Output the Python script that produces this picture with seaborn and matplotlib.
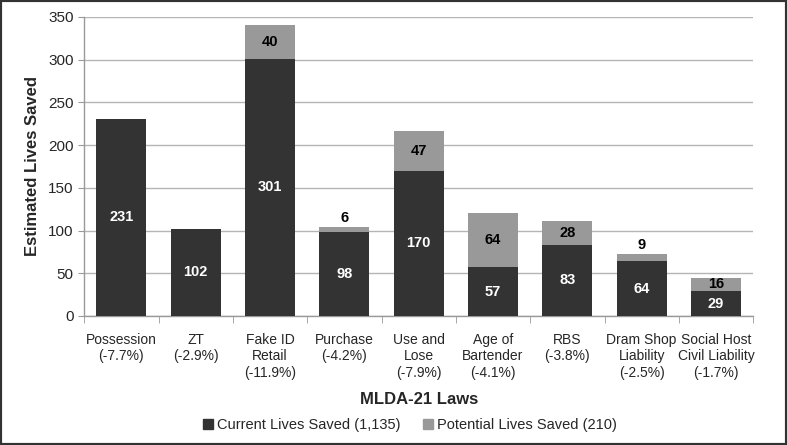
import matplotlib
matplotlib.use('Agg')
import matplotlib.pyplot as plt
import seaborn as sns
import pandas as pd
from matplotlib.patches import Rectangle, Patch

# Datos del grafico
laws = ['Possession\n(-7.7%)', 'ZT\n(-2.9%)', 'Fake ID\nRetail\n(-11.9%)', 'Purchase\n(-4.2%)',
        'Use and\nLose\n(-7.9%)', 'Age of\nBartender\n(-4.1%)', 'RBS\n(-3.8%)',
        'Dram Shop\nLiability\n(-2.5%)', 'Social Host\nCivil Liability\n(-1.7%)']
current = [231, 102, 301, 98, 170, 57, 83, 64, 29]
potential = [0, 0, 40, 6, 47, 64, 28, 9, 16]
legend_labels = ['Current Lives Saved (1,135)', 'Potential Lives Saved (210)']

sns.set_style('white')
plt.rcParams['font.family'] = ['Liberation Sans', 'DejaVu Sans']

dark = '#333333'
light = '#999999'

df = pd.DataFrame({'law': laws, 'current': current, 'potential': potential})
df['total'] = df['current'] + df['potential']

fig = plt.figure(figsize=(7.87, 4.45), dpi=100)
ax = fig.add_axes([0.107, 0.29, 0.85, 0.672])

sns.barplot(data=df, x='law', y='total', color=light, saturation=1, width=0.67,
            linewidth=0, ax=ax, zorder=2)
sns.barplot(data=df, x='law', y='current', color=dark, saturation=1, width=0.67,
            linewidth=0, ax=ax, zorder=3)

ax.set_ylim(0, 350)
ax.set_yticks(range(0, 351, 50))
ax.set_xlim(-0.5, len(laws) - 0.5)
ax.yaxis.grid(True, color='#b5b5b5', linewidth=1, zorder=0)
ax.set_axisbelow(True)
for s in ['top', 'right']:
    ax.spines[s].set_visible(False)
for s in ['left', 'bottom']:
    ax.spines[s].set_color('#999999')
    ax.spines[s].set_linewidth(1)

ax.tick_params(axis='y', labelsize=11, length=4, color='#999999', left=True)
ax.tick_params(axis='x', which='major', labelsize=10, length=0, pad=12)
ax.set_xticks([i - 0.5 for i in range(len(laws) + 1)], minor=True)
ax.tick_params(axis='x', which='minor', length=5, color='#999999', bottom=True)
for lbl in ax.get_xticklabels():
    lbl.set_linespacing(1.25)

# Etiquetas de valores
for i, row in df.iterrows():
    ax.text(i, row['current'] / 2, str(row['current']), ha='center', va='center',
            color='white', fontweight='bold', fontsize=10.5, zorder=5)
    if row['potential'] > 0:
        if row['potential'] >= 12:
            y = row['current'] + row['potential'] / 2
            va = 'center'
        else:
            y = row['total'] + 2
            va = 'bottom'
        ax.text(i, y, str(row['potential']), ha='center', va=va,
                color='black', fontweight='bold', fontsize=10.5, zorder=5)

ax.set_xlabel('MLDA-21 Laws', fontsize=12, fontweight='bold')
ax.set_ylabel('Estimated Lives Saved', fontsize=12, fontweight='bold')
ax.xaxis.set_label_coords(0.5, -0.255)
ax.yaxis.set_label_coords(-0.066, 0.5)

handles = [Patch(color=dark), Patch(color=light)]
fig.legend(handles, legend_labels, loc='center', bbox_to_anchor=(0.521, 0.045), ncol=2,
           frameon=False, fontsize=10.5, handlelength=0.7, handleheight=0.7,
           handletextpad=0.3, columnspacing=1.5)

fig.add_artist(Rectangle((0, 0), 1, 1, transform=fig.transFigure, fill=False,
                         edgecolor='#333333', linewidth=3))

plt.savefig('out.png', dpi=100)
plt.close()
